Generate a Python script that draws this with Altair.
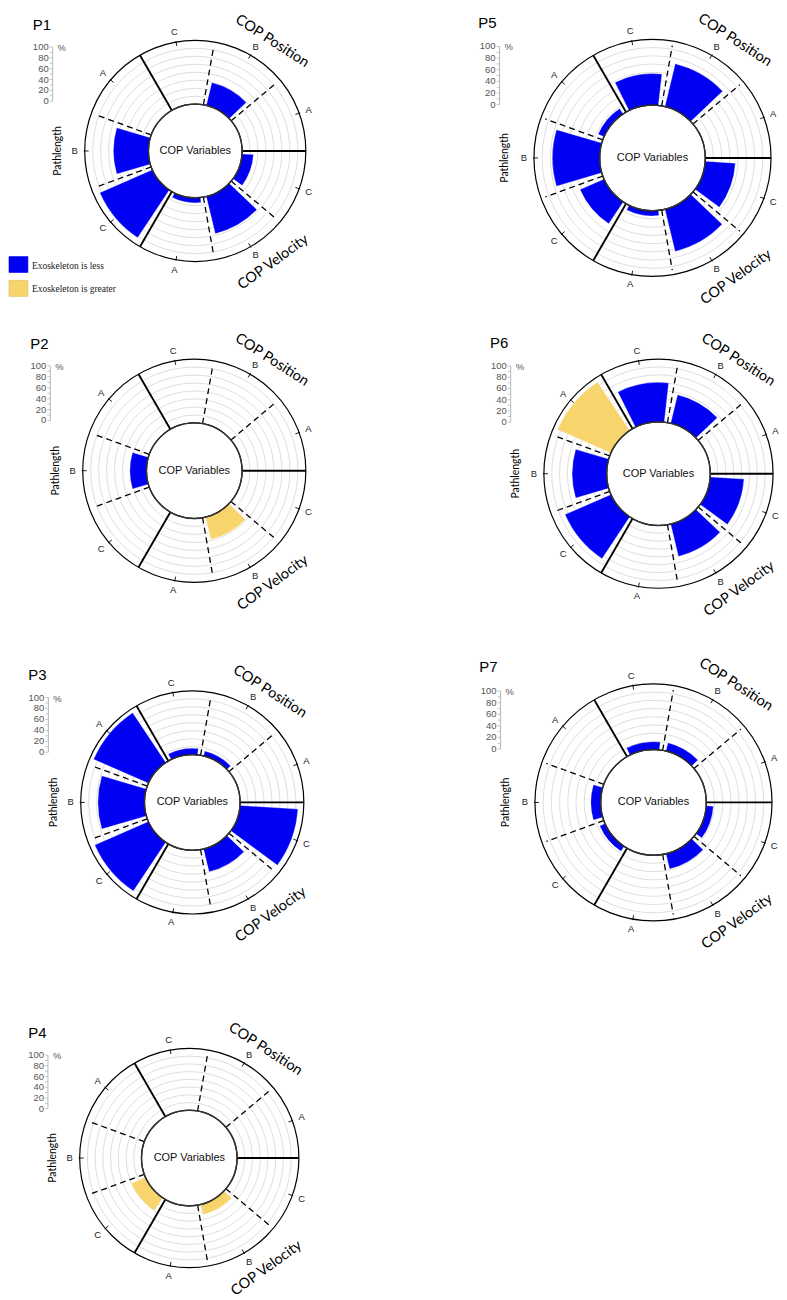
import math
import altair as alt
import pandas as pd

# ---------------- data ----------------
CATEGORIES = ["COP Position", "COP Velocity", "Pathlength"]
LEVELS = ["A", "B", "C"]
PARTICIPANTS = ["P1", "P2", "P3", "P4", "P5", "P6", "P7"]

# % change, order: Position A,B,C | Velocity A,B,C | Pathlength A,B,C
P1_VALUES = [0, 37, 0, 8, 60, 18, 0, 55, 90]
P2_VALUES = [0, 0, 0, 0, 36, 0, 0, 26, 0]
P3_VALUES = [0, 8, 10, 0, 37, 91, 94, 73, 92]
P4_VALUES = [0, 0, 0, 0, 17, 0, 0, 0, 25]
P5_VALUES = [0, 67, 48, 8, 66, 46, 10, 72, 40]
P6_VALUES = [0, 47, 63, 0, 53, 54, 93, 55, 80]
P7_VALUES = [0, 13, 12, 0, 24, 11, 0, 15, 9]

# 1 = exoskeleton is greater, 0 = exoskeleton is less
P1_GREATER = [0, 0, 0, 0, 0, 0, 0, 0, 0]
P2_GREATER = [0, 0, 0, 0, 1, 0, 0, 0, 0]
P3_GREATER = [0, 0, 0, 0, 0, 0, 0, 0, 0]
P4_GREATER = [0, 0, 0, 0, 1, 0, 0, 0, 1]
P5_GREATER = [0, 0, 0, 0, 0, 0, 0, 0, 0]
P6_GREATER = [0, 0, 0, 0, 0, 0, 1, 0, 0]
P7_GREATER = [0, 0, 0, 0, 0, 0, 0, 0, 0]

SCALE_TICKS = [0, 20, 40, 60, 80, 100]
SCALE_MINOR = [0, 10, 20, 30, 40, 50, 60, 70, 80, 90, 100]
GRID_RINGS = [12.5, 25, 37.5, 50, 62.5, 75, 87.5]
LEGEND_LABELS = ["Exoskeleton is less", "Exoskeleton is greater"]

# ---------------- style / layout ----------------
BLUE = "#0000F2"
YELLOW = "#F8D46C"
TAU = 2 * math.pi
T0 = 11 * math.pi / 6          # top-left group boundary
STEP = TAU / 9
PAD = 0.09
SANS = "Liberation Sans"
TITLE_FONT = "Lato"

# origin_x, origin_y, width, height, center_x, center_y (page px), r_inner, r_outer
GEOMETRY = {
    "P1": (8, 8, 395, 300, 195, 146, 47, 111),
    "P2": (8, 308, 395, 317, 194, 467, 48, 112),
    "P3": (8, 625, 395, 310, 192, 800, 48, 112),
    "P4": (8, 935, 395, 350, 189, 1157, 48, 110),
    "P5": (403, 8, 376, 300, 654, 153, 53, 119),
    "P6": (403, 308, 376, 317, 660, 470, 52, 115),
    "P7": (403, 625, 376, 310, 655, 800, 53, 119),
}


def panel(name, values, greater, legend=False):
    ox, oy, w, h, pcx, pcy, r_in, r_out = GEOMETRY[name]
    cx, cy = pcx - ox, pcy - oy
    xs = alt.Scale(domain=[0, w], range=[0, w], nice=False, zero=False)
    ys = alt.Scale(domain=[0, h], range=[0, h], nice=False, zero=False)
    rs = alt.Scale(type="linear", domain=[0, 100], range=[r_in, r_out], zero=False, nice=False)
    ts = alt.Scale(domain=[0, 9], range=[T0, T0 + TAU], zero=False, nice=False)
    X, Y = alt.value(cx), alt.value(cy)

    rows = []
    for c, cat in enumerate(CATEGORIES):
        for l, lev in enumerate(LEVELS):
            k = 3 * c + l
            idx = 3 * c + (2 - l)
            rows.append(dict(category=cat, level=lev, t0=idx + PAD, t1=idx + 1 - PAD,
                             value=values[k], base=0,
                             effect="greater" if greater[k] else "less"))
    bars_df = pd.DataFrame(rows)
    bars_df = bars_df[bars_df["value"] > 0]

    layers = []
    # grid rings
    layers.append(alt.Chart(pd.DataFrame({"ring": GRID_RINGS})).mark_arc(
        fillOpacity=0, stroke="#d6d6d6", strokeWidth=0.8).encode(
        x=X, y=Y, theta=alt.value(0), theta2=alt.value(TAU),
        radius=alt.Radius("ring:Q", scale=rs, stack=False)))
    # bars
    layers.append(alt.Chart(bars_df).mark_arc(stroke="#ffffff", strokeWidth=0.3).encode(
        x=X, y=Y,
        theta=alt.Theta("t0:Q", scale=ts, stack=False), theta2="t1:Q",
        radius=alt.Radius("value:Q", scale=rs, stack=False), radius2="base:Q",
        color=alt.Color("effect:N", scale=alt.Scale(domain=["less", "greater"], range=[BLUE, YELLOW]),
                        legend=None)))
    # radial boundary lines
    bnd = pd.DataFrame({"boundary": list(range(9))})
    bnd["kind"] = ["solid" if b % 3 == 0 else "dashed" for b in bnd["boundary"]]
    r_dash = r_in + 0.93 * (r_out - r_in)
    for kind, r_end, sw, dash in [("dashed", r_dash, 1.3, [6, 4]), ("solid", r_out, 1.9, [1, 0])]:
        layers.append(alt.Chart(bnd).transform_filter(f"datum.kind == '{kind}'").transform_calculate(
            a=f"{T0} + datum.boundary * {STEP}",
            x1=f"{cx} + {r_in} * sin(datum.a)", y1=f"{cy} - {r_in} * cos(datum.a)",
            x2=f"{cx} + {r_end} * sin(datum.a)", y2=f"{cy} - {r_end} * cos(datum.a)",
        ).mark_rule(color="#000000", strokeWidth=sw, strokeDash=dash).encode(
            x=alt.X("x1:Q", scale=xs, axis=None), y=alt.Y("y1:Q", scale=ys, axis=None),
            x2="x2:Q", y2="y2:Q"))
    # outer circle
    layers.append(alt.Chart(pd.DataFrame({"v": [100]})).mark_arc(
        fillOpacity=0, stroke="#000000", strokeWidth=1.2).encode(
        x=X, y=Y, theta=alt.value(0), theta2=alt.value(TAU),
        radius=alt.Radius("v:Q", scale=rs, stack=False)))
    # sector ticks + labels
    sec = pd.DataFrame({"sector": list(range(9)), "label": ["C", "B", "A"] * 3})
    base_sec = alt.Chart(sec).transform_calculate(
        a=f"{T0} + (datum.sector + 0.5) * {STEP}",
        tx1=f"{cx} + {r_out - 4} * sin(datum.a)", ty1=f"{cy} - {r_out - 4} * cos(datum.a)",
        tx2=f"{cx} + {r_out + 1} * sin(datum.a)", ty2=f"{cy} - {r_out + 1} * cos(datum.a)",
        lx=f"{cx} + {r_out + 10} * sin(datum.a)", ly=f"{cy} - {r_out + 10} * cos(datum.a)",
    )
    layers.append(base_sec.mark_rule(color="#000000", strokeWidth=0.9).encode(
        x=alt.X("tx1:Q", scale=xs, axis=None), y=alt.Y("ty1:Q", scale=ys, axis=None),
        x2="tx2:Q", y2="ty2:Q"))
    layers.append(base_sec.mark_text(font=SANS, fontSize=9.5, color="#222222",
                                     align="center", baseline="middle").encode(
        x=alt.X("lx:Q", scale=xs, axis=None), y=alt.Y("ly:Q", scale=ys, axis=None), text="label:N"))
    # inner circle
    layers.append(alt.Chart(pd.DataFrame({"v": [0]})).mark_arc(
        fill="#ffffff", stroke="#333333", strokeWidth=1.4).encode(
        x=X, y=Y, theta=alt.value(0), theta2=alt.value(TAU),
        radius=alt.Radius("v:Q", scale=rs, stack=False)))
    layers.append(alt.Chart(pd.DataFrame({"t": ["COP Variables"]})).mark_text(
        font=SANS, fontSize=11, color="#111111", align="center", baseline="middle").encode(
        x=X, y=Y, text="t:N"))

    # group titles
    specs = [(CATEGORIES[0], 55, 1.21 * r_out, 33, 14.5),
             (CATEGORIES[1], -55, 1.23 * r_out, 324, 14.5),
             (CATEGORIES[2], 180, 1.24 * r_out, 270, 10.5)]
    for txt, m, d, ang, fs in specs:
        px = cx + d * math.cos(math.radians(m))
        py = cy - d * math.sin(math.radians(m))
        layers.append(alt.Chart(pd.DataFrame({"t": [txt]})).mark_text(
            font=TITLE_FONT, fontSize=fs, color="#000000", angle=ang,
            align="center", baseline="middle").encode(
            x=alt.value(px), y=alt.value(py), text="t:N"))

    # panel title
    layers.append(alt.Chart(pd.DataFrame({"t": [name]})).mark_text(
        font=SANS, fontSize=15, color="#000000", align="left", baseline="middle").encode(
        x=alt.value(cx - 1.47 * r_out), y=alt.value(cy - 1.14 * r_out), text="t:N"))

    # percentage scale bar
    sx = cx - 1.29 * r_out
    y0 = cy - 0.45 * r_out
    y100 = cy - 0.94 * r_out
    layers.append(alt.Chart(pd.DataFrame({"v": [0]})).mark_rule(
        color="#b8b8b8", strokeWidth=1).encode(
        x=alt.value(sx), y=alt.value(y0), y2=alt.value(y100)))
    layers.append(alt.Chart(pd.DataFrame({"v": SCALE_MINOR})).transform_calculate(
        yy=f"{y0} - datum.v / 100 * {y0 - y100}", xa=f"{sx - 3}", xb=f"{sx}"
    ).mark_rule(color="#b8b8b8", strokeWidth=0.8).encode(
        x=alt.X("xa:Q", scale=xs, axis=None), x2="xb:Q",
        y=alt.Y("yy:Q", scale=ys, axis=None)))
    layers.append(alt.Chart(pd.DataFrame({"v": SCALE_TICKS})).transform_calculate(
        yy=f"{y0} - datum.v / 100 * {y0 - y100}", xx=f"{sx - 4}"
    ).mark_text(font=SANS, fontSize=9.5, color="#555555", align="right", baseline="middle").encode(
        x=alt.X("xx:Q", scale=xs, axis=None), y=alt.Y("yy:Q", scale=ys, axis=None), text="v:N"))
    layers.append(alt.Chart(pd.DataFrame({"t": ["%"]})).mark_text(
        font=SANS, fontSize=9.5, color="#555555", align="left", baseline="middle").encode(
        x=alt.value(sx + 5), y=alt.value(y100 + 1), text="t:N"))

    if legend:
        for i, (lab, col) in enumerate(zip(LEGEND_LABELS, [BLUE, YELLOW])):
            top = 244 + 24 * i
            layers.append(alt.Chart(pd.DataFrame({"t": [lab]})).mark_rect(
                color=col, stroke="#d9b85a" if i else col, strokeWidth=0.6).encode(
                x=alt.value(0), x2=alt.value(19), y=alt.value(top), y2=alt.value(top + 16)))
            layers.append(alt.Chart(pd.DataFrame({"t": [lab]})).mark_text(
                font="Liberation Serif", fontSize=9.5, color="#222222",
                align="left", baseline="middle").encode(
                x=alt.value(23), y=alt.value(top + 9), text="t:N"))

    return alt.layer(*layers).properties(width=w, height=h)


VALS = dict(zip(PARTICIPANTS, [P1_VALUES, P2_VALUES, P3_VALUES, P4_VALUES,
                               P5_VALUES, P6_VALUES, P7_VALUES]))
GRT = dict(zip(PARTICIPANTS, [P1_GREATER, P2_GREATER, P3_GREATER, P4_GREATER,
                              P5_GREATER, P6_GREATER, P7_GREATER]))

ORDER = ["P1", "P5", "P2", "P6", "P3", "P7", "P4"]
chart = alt.concat(*[panel(p, VALS[p], GRT[p], legend=(p == "P1")) for p in ORDER],
                   columns=2, spacing=0, bounds="flush", align="each",
                   padding=0).configure_view(stroke=None)

chart.save("out.html", embed_options={"renderer": "svg", "actions": False})
